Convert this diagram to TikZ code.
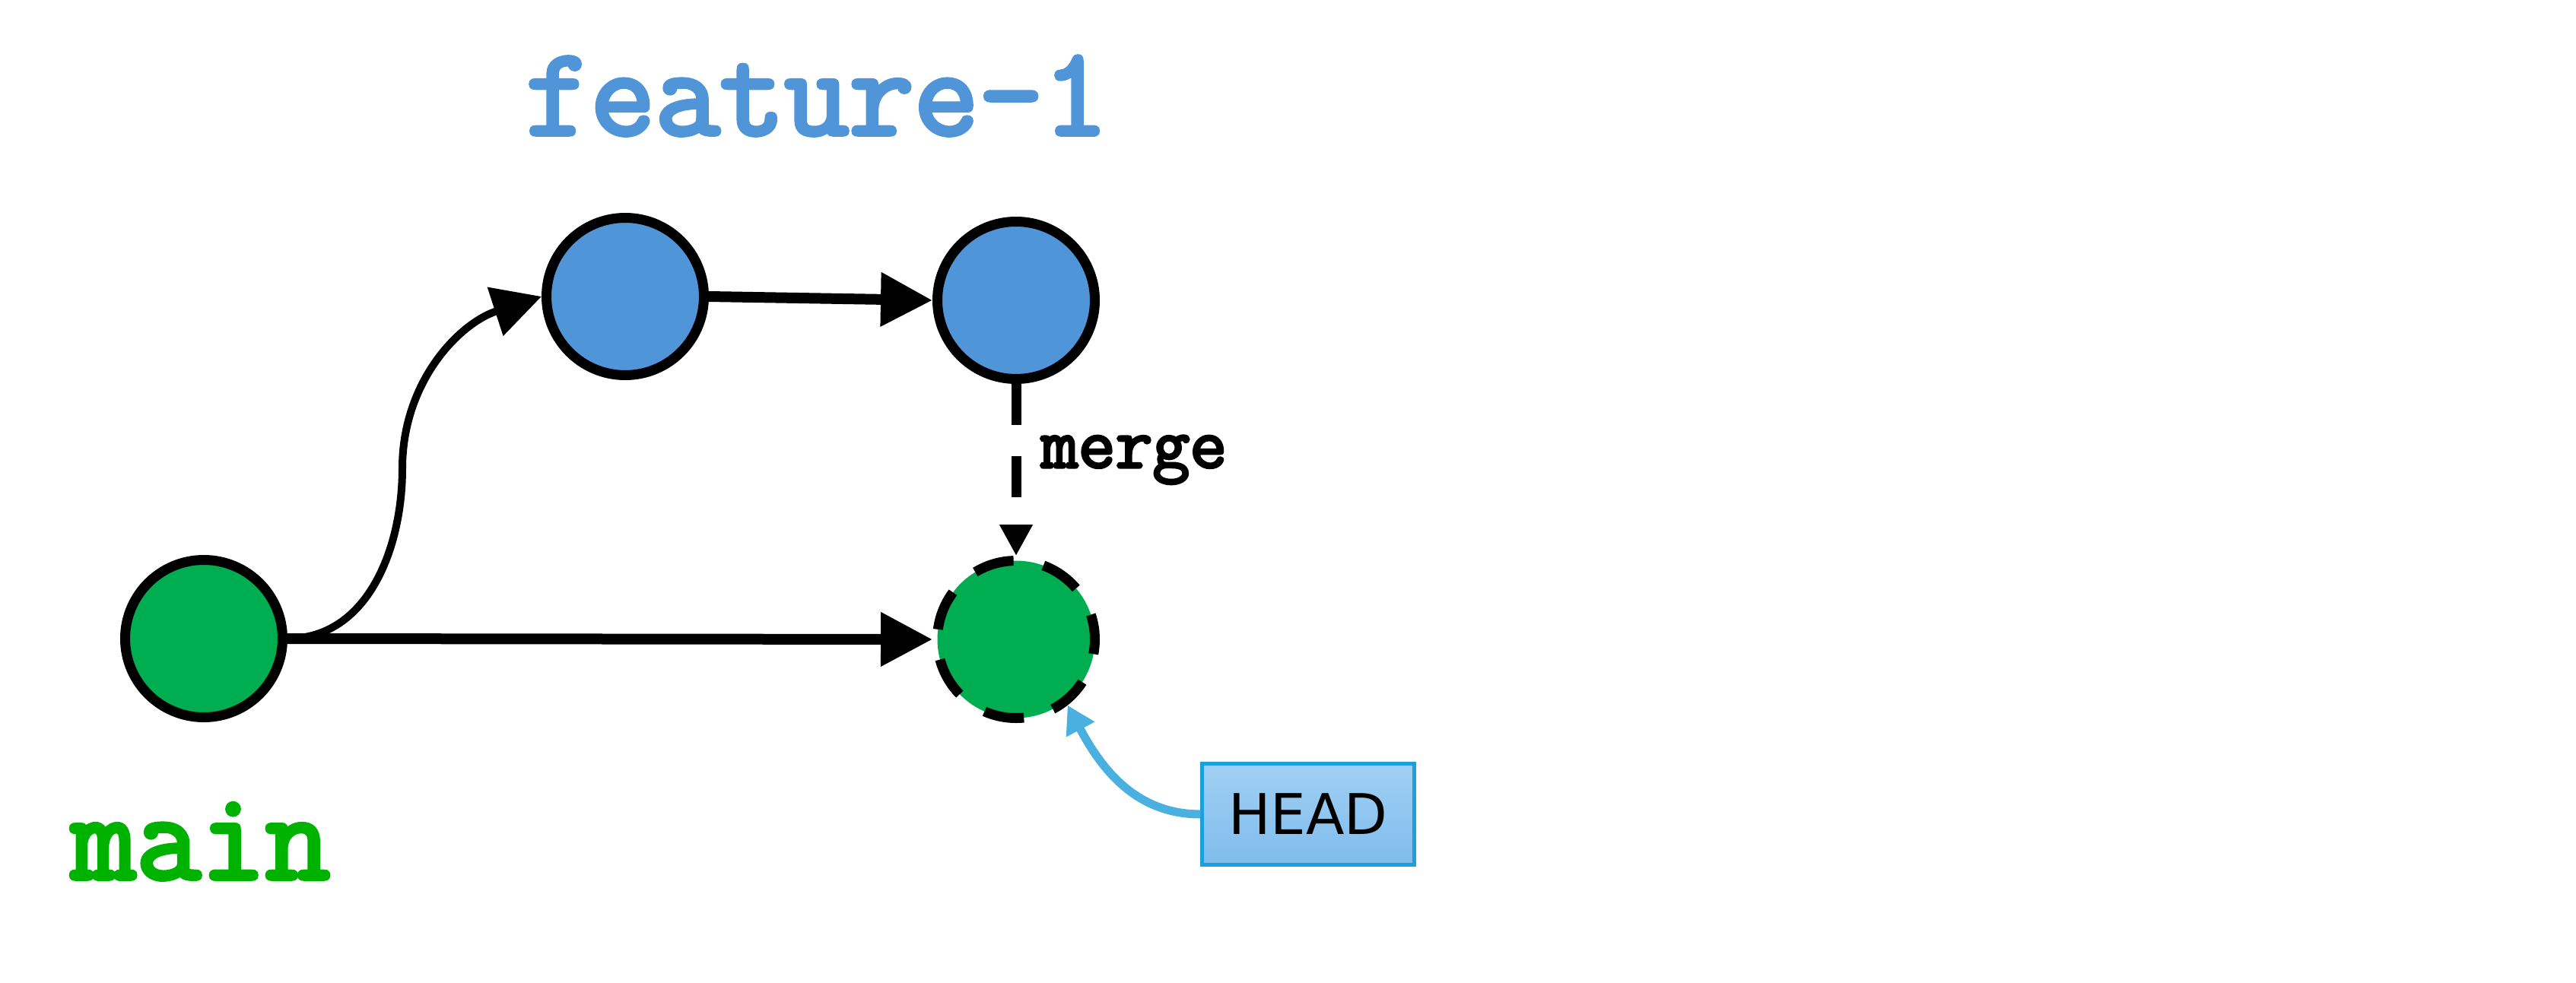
\documentclass[tikz,border=0pt]{standalone}
\usepackage{fontspec}
\usepackage{xcolor}
\usepackage{tikz}
\usetikzlibrary{arrows.meta,positioning}
\setmonofont{Latin Modern Mono}[FakeBold=3.5]
\newfontfamily\headfont{DejaVu Sans}
\definecolor{commitblue}{RGB}{80,149,216}
\definecolor{commitgreen}{RGB}{0,173,80}
\definecolor{branchgreen}{RGB}{0,178,0}
\definecolor{headedge}{RGB}{28,160,219}
\definecolor{headtop}{RGB}{162,208,244}
\definecolor{headbottom}{RGB}{126,188,235}
\definecolor{headarrow}{RGB}{74,176,224}

\tikzset{
  commit/.style={circle, draw=black, line width=0.13cm, minimum size=2.07cm, inner sep=0pt},
  bigarrow/.style={line width=0.14cm, -{Triangle[length=0.68cm,width=0.68cm]}},
  branchlabel/.style={anchor=base, font=\ttfamily\fontsize{47}{52}\selectfont}
}

\begin{document}
\begin{tikzpicture}[x=1cm,y=1cm]
  \useasboundingbox (0,0) rectangle (33.87,12.92);

  % branch labels
  \node[branchlabel, text=commitblue] (featlabel) at (10.74,11.15) {feature-1};
  \node[branchlabel, text=branchgreen] (mainlabel) at (2.64,1.36) {main};

  % commits
  \node[commit, fill=commitgreen] (mainc) at (2.68,4.52) {};
  \node[commit, fill=commitblue] (featA) at (8.22,9.02) {};
  \node[commit, fill=commitblue] (featB) at (13.36,8.97) {};
  \node[commit, fill=commitgreen, dash pattern=on 0.53cm off 0.40cm, dash phase=0.2cm] (mergec) at (13.36,4.51) {};

  % HEAD pointer
  \node[draw=headedge, line width=0.045cm, top color=headtop, bottom color=headbottom,
        minimum width=2.79cm, minimum height=1.33cm, inner sep=0pt,
        font=\headfont\fontsize{21}{25}\selectfont] (head) at (17.20,2.21) {HEAD};

  % history
  \coordinate (bend) at (5.29,6.76);
  \draw[line width=0.10cm, -{Triangle[length=0.64cm,width=0.65cm]}]
    (mainc.east) to[out=0,in=-90] (bend) to[out=90,in=198] (featA.west);
  \draw[bigarrow] (featA.east) -- (featB.west);
  \draw[bigarrow] (mainc.east) -- (mergec.west);

  % merge
  \draw[line width=0.13cm, dash pattern=on 0.54cm off 0.41cm, -{Triangle[length=0.41cm,width=0.41cm]}]
    (featB.south) -- (mergec.north);
  \node[anchor=base, font=\ttfamily\fontsize{27}{30}\selectfont] (mergelabel) at (14.91,6.77) {merge};

  \draw[headarrow, line width=0.11cm, -{Triangle[length=0.36cm,width=0.40cm]}]
    (head.west) to[out=180,in=-62] (mergec.-52);
\end{tikzpicture}
\end{document}
